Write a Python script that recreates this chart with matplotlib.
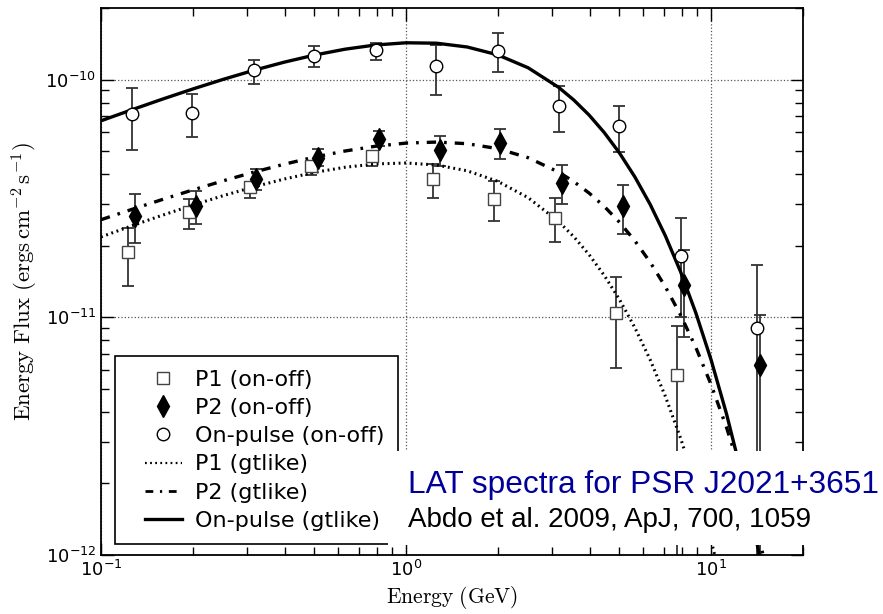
import numpy as np
import matplotlib
matplotlib.use("Agg")
import matplotlib.pyplot as plt
from matplotlib.lines import Line2D
from matplotlib.patches import Rectangle
from matplotlib.legend_handler import HandlerLine2D

# on-off points: energy (GeV), flux, lower and upper bound of error bar
p1_e = [0.1229, 0.1945, 0.3074, 0.4867, 0.775, 1.224, 1.944, 3.078, 4.875, 7.72]
p1_f = [1.875e-11, 2.762e-11, 3.533e-11, 4.315e-11, 4.75e-11, 3.83e-11, 3.155e-11, 2.624e-11, 1.047e-11, 5.69e-12]
p1_lo = [1.358e-11, 2.35e-11, 3.18e-11, 3.98e-11, 4.34e-11, 3.19e-11, 2.55e-11, 2.065e-11, 6.11e-12, 1e-13]
p1_hi = [2.376e-11, 3.155e-11, 3.70e-11, 4.50e-11, 4.95e-11, 4.43e-11, 3.73e-11, 3.18e-11, 1.475e-11, 9.20e-12]

p2_e = [0.1292, 0.2047, 0.3233, 0.5143, 0.813, 1.287, 2.039, 3.236, 5.126, 8.16, 14.43]
p2_f = [2.675e-11, 2.927e-11, 3.82e-11, 4.68e-11, 5.63e-11, 5.04e-11, 5.41e-11, 3.67e-11, 2.93e-11, 1.361e-11, 6.27e-12]
p2_lo = [2.053e-11, 2.468e-11, 3.44e-11, 4.32e-11, 5.24e-11, 4.32e-11, 4.64e-11, 3.01e-11, 2.24e-11, 8.26e-12, 1e-13]
p2_hi = [3.31e-11, 3.41e-11, 4.21e-11, 5.11e-11, 6.10e-11, 5.81e-11, 6.20e-11, 4.35e-11, 3.61e-11, 1.91e-11, 1.024e-11]

on_e = [0.1263, 0.1986, 0.3168, 0.498, 0.795, 1.256, 1.997, 3.165, 4.99, 7.98, 14.1]
on_f = [7.19e-11, 7.21e-11, 1.094e-10, 1.253e-10, 1.327e-10, 1.138e-10, 1.315e-10, 7.77e-11, 6.40e-11, 1.816e-11, 9.02e-12]
on_lo = [5.07e-11, 5.75e-11, 9.62e-11, 1.130e-10, 1.213e-10, 8.65e-11, 1.074e-10, 6.00e-11, 4.95e-11, 1.007e-11, 1e-13]
on_hi = [9.25e-11, 8.73e-11, 1.213e-10, 1.380e-10, 1.428e-10, 1.403e-10, 1.563e-10, 9.44e-11, 7.77e-11, 2.62e-11, 1.652e-11]

# gtlike model curves
curve_e = [0.1, 0.1259, 0.1585, 0.1995, 0.2512, 0.3162, 0.3981, 0.5012, 0.6310, 0.7943,
           1.0, 1.259, 1.585, 1.995, 2.512, 3.162, 3.548, 3.981, 4.467, 5.012,
           5.623, 6.310, 7.079, 7.943, 8.913, 10.0, 11.22, 12.59, 14.13, 15.85, 17.78]
p1_fit = [2.178e-11, 2.423e-11, 2.684e-11, 2.960e-11, 3.246e-11, 3.534e-11, 3.814e-11, 4.069e-11, 4.277e-11, 4.416e-11,
          4.457e-11, 4.370e-11, 4.133e-11, 3.734e-11, 3.186e-11, 2.528e-11, 2.181e-11, 1.833e-11, 1.497e-11, 1.185e-11,
          9.04e-12, 6.63e-12, 4.647e-12, 3.095e-12, 1.947e-12, 1.149e-12, 6.32e-13, 3.20e-13, 1.5e-13, 6e-14, 2e-14]
p2_fit = [2.573e-11, 2.840e-11, 3.126e-11, 3.430e-11, 3.749e-11, 4.076e-11, 4.403e-11, 4.719e-11, 5.006e-11, 5.243e-11,
          5.404e-11, 5.458e-11, 5.373e-11, 5.123e-11, 4.691e-11, 4.081e-11, 3.720e-11, 3.330e-11, 2.923e-11, 2.507e-11,
          2.097e-11, 1.705e-11, 1.343e-11, 1.021e-11, 7.450e-12, 5.200e-12, 3.450e-12, 2.163e-12, 1.273e-12, 6.97e-13, 3.52e-13]
on_fit = [6.708e-11, 7.454e-11, 8.262e-11, 9.118e-11, 1.0014e-10, 1.093e-10, 1.183e-10, 1.268e-10, 1.342e-10, 1.398e-10,
          1.428e-10, 1.422e-10, 1.371e-10, 1.271e-10, 1.121e-10, 9.275e-11, 8.198e-11, 7.088e-11, 5.975e-11, 4.899e-11,
          3.893e-11, 2.985e-11, 2.200e-11, 1.552e-11, 1.041e-11, 6.607e-12, 3.937e-12, 2.186e-12, 1.122e-12, 5.27e-13, 2.24e-13]

labels = ["P1 (on-off)", "P2 (on-off)", "On-pulse (on-off)",
          "P1 (gtlike)", "P2 (gtlike)", "On-pulse (gtlike)"]

fig = plt.figure(figsize=(8.83, 6.14), dpi=100)
ax = fig.add_axes([101/883, 1-555/614, 702/883, 547/614])
ax.set_xscale("log")
ax.set_yscale("log")


def yerr(f, lo, hi):
    f = np.array(f)
    return [f - np.array(lo), np.array(hi) - f]


ebkw = dict(fmt="none", ecolor="#333333", elinewidth=1.3, capsize=4, capthick=1.3, zorder=2)
ax.errorbar(p1_e, p1_f, yerr=yerr(p1_f, p1_lo, p1_hi), **ebkw)
ax.errorbar(p2_e, p2_f, yerr=yerr(p2_f, p2_lo, p2_hi), **ebkw)
ax.errorbar(on_e, on_f, yerr=yerr(on_f, on_lo, on_hi), **ebkw)

dots = (0, (0.6, 1.2))
dashdot = (0, (2.8, 2.4, 0.8, 2.4))
ax.plot(curve_e, p1_fit, color="black", lw=2.2, linestyle=dots, zorder=3)
ax.plot(curve_e, p2_fit, color="black", lw=2.4, linestyle=dashdot, zorder=3)
ax.plot(curve_e, on_fit, color="black", lw=2.4, zorder=3)

ax.plot(p1_e, p1_f, "s", ms=9, mfc="white", mec="#444444", mew=1.0, zorder=4)
ax.plot(p2_e, p2_f, "d", ms=11, mfc="black", mec="black", zorder=4)
ax.plot(on_e, on_f, "o", ms=9, mfc="white", mec="black", mew=1.0, zorder=4)

ax.set_xlim(0.1, 20)
ax.set_ylim(1e-12, 2e-10)
ax.grid(True, which="major", linestyle=":", color="#555555", lw=0.9)
ax.tick_params(which="both", direction="in", top=True, right=True, labelsize=13)
ax.tick_params(which="major", length=9, width=1)
ax.tick_params(which="minor", length=6, width=1)
for s in ax.spines.values():
    s.set_linewidth(1.3)

ax.set_xlabel(r"$\mathrm{Energy\ (GeV)}$", fontsize=15.5, math_fontfamily="cm", labelpad=3)
ax.set_ylabel(r"$\mathrm{Energy\ Flux\ (ergs\,cm^{-2}\,s^{-1})}$", fontsize=16.5,
              math_fontfamily="cm", labelpad=4)


class LineHandler(HandlerLine2D):
    # draw the line (or marker) only in the right part of the handle box
    def get_xdata(self, legend, xdescent, ydescent, width, height, fontsize):
        pad = 0.75 * fontsize
        xdata = np.linspace(-xdescent + pad, -xdescent + width, 2)
        return xdata, [0.5 * (xdata[0] + xdata[1])]


handles = [
    Line2D([], [], ls="none", marker="s", ms=9, mfc="white", mec="#444444", mew=1.0),
    Line2D([], [], ls="none", marker="d", ms=11, mfc="black", mec="black"),
    Line2D([], [], ls="none", marker="o", ms=9, mfc="white", mec="black", mew=1.0),
    Line2D([], [], color="black", lw=1.6, linestyle=(0, (0.8, 1.5))),
    Line2D([], [], color="black", lw=2.0, linestyle=dashdot),
    Line2D([], [], color="black", lw=2.4),
]
leg = ax.legend(handles, labels, loc="lower left", bbox_to_anchor=(0.02, 0.02),
                borderaxespad=0, fontsize=16, fancybox=False, edgecolor="black",
                framealpha=1, labelspacing=0.37, handlelength=2.4, handletextpad=0.6,
                borderpad=0.6, handler_map={Line2D: LineHandler()})
leg.get_frame().set_linewidth(1.2)

fig.patches.append(Rectangle((388/883, 1-545/614), (880-388)/883, (545-451)/614,
                             transform=fig.transFigure, facecolor="white",
                             edgecolor="none", zorder=1))
fig.text(408/883, 1-493/614, "LAT spectra for PSR J2021+3651", color="#000099",
         fontsize=22.8, family="Liberation Sans", va="baseline", zorder=3)
fig.text(408/883, 1-527/614, "Abdo et al. 2009, ApJ, 700, 1059", color="black",
         fontsize=20, family="Liberation Sans", va="baseline", zorder=3)

fig.savefig("out.png", dpi=100)
